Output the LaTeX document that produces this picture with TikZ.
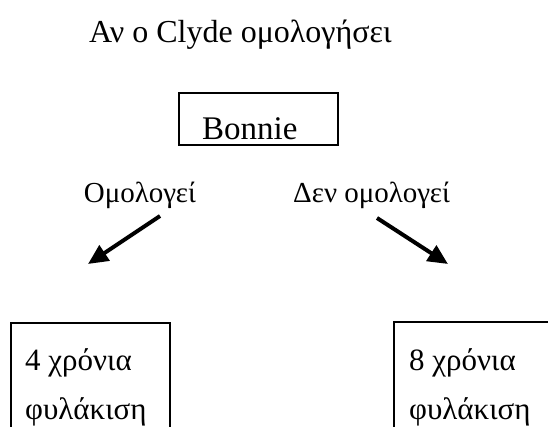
\documentclass[tikz,border=0pt]{standalone}
\usepackage{fontspec}
\setmainfont{Liberation Serif}
\usetikzlibrary{arrows.meta}
\tikzset{
  boxst/.style={draw, line width=2.6pt, inner sep=0pt},
  txt/.style={anchor=base west, inner sep=0pt, font=\fontsize{29}{32}\selectfont},
  bigtxt/.style={anchor=base west, inner sep=0pt, font=\fontsize{31}{34}\selectfont},
  arr/.style={line width=4pt, -{Triangle[length=20pt,width=18pt]}}
}
\begin{document}
\begin{tikzpicture}[x=1pt,y=-1pt]
\useasboundingbox (0,0) rectangle (548,427);
\clip (0,0) rectangle (548,427);
\node[txt, font=\fontsize{32}{34}\selectfont] (title) at (89,43) {Αν ο Clyde ομολογήσει};
\node[boxst, minimum width=159pt, minimum height=52pt] (bonniebox) at (258.5,119) {};
\node[bigtxt, font=\fontsize{33}{36}\selectfont] (bonnie) at (202,140) {Bonnie};
\node[txt, anchor=base east] (yes) at (196,203) {Ομολογεί};
\node[txt] (no) at (293,203) {Δεν ομολογεί};
\coordinate (la) at (160,216);
\coordinate (lb) at (88,264);
\coordinate (ra) at (377,218);
\coordinate (rb) at (448,264);
\draw[arr] (la) -- (lb);
\draw[arr] (ra) -- (rb);
\node[boxst, minimum width=159pt, minimum height=150pt] (leftbox) at (90.5,398) {};
\node[boxst, minimum width=170pt, minimum height=150pt] (rightbox) at (479,397) {};
\node[bigtxt] (l1) at (25,370) {4 χρόνια};
\node[bigtxt] (l2) at (25,419) {φυλάκιση};
\node[bigtxt] (r1) at (409,370) {8 χρόνια};
\node[bigtxt] (r2) at (409,419) {φυλάκιση};
\end{tikzpicture}
\end{document}
